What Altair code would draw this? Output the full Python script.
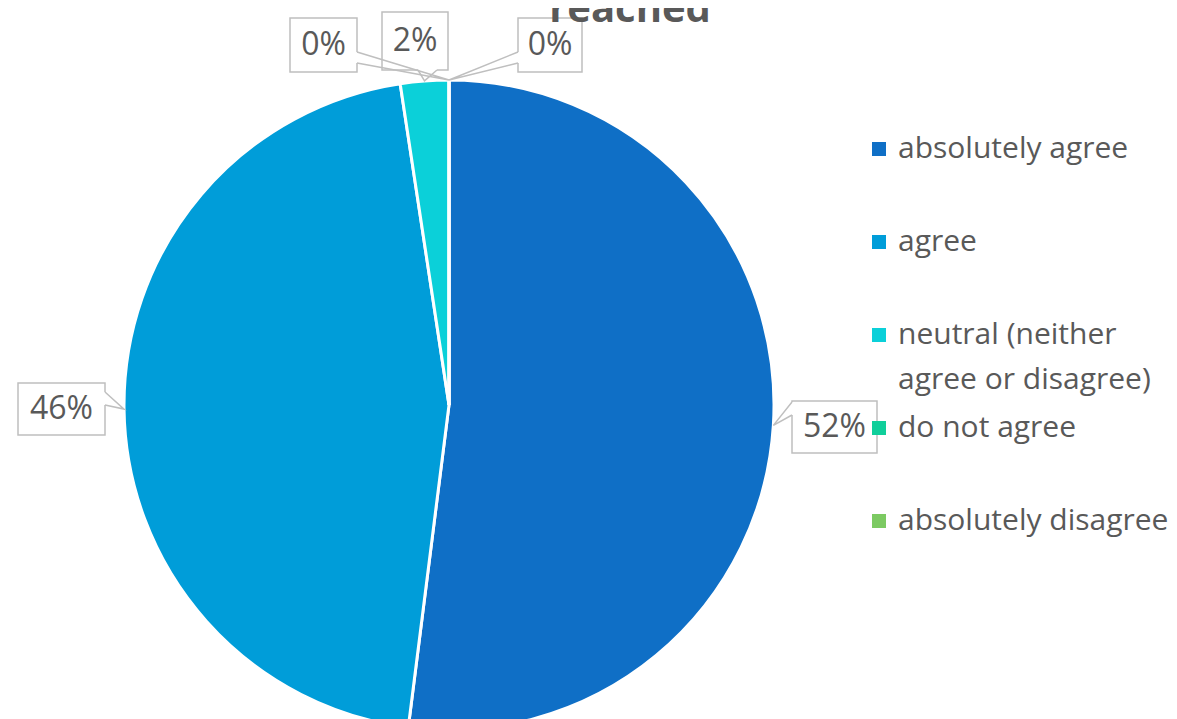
import math
import altair as alt
import pandas as pd

# ---------------- data ----------------
categories = ["absolutely agree", "agree", "neutral (neither agree or disagree)",
              "do not agree", "absolutely disagree"]
legend_labels = ["absolutely agree", "agree", "neutral (neither\nagree or disagree)",
                 "do not agree", "absolutely disagree"]
shares = [52.0, 45.6, 2.4, 0.0, 0.0]
colors = ["#0F6FC6", "#009DD9", "#0BD0D9", "#10CF9B", "#7CCA62"]
title_text = "reached"

# ---------------- layout (page pixels) ----------------
PAGE_W, PAGE_H, M = 1177, 719, 8
W, H = PAGE_W - 2 * M, PAGE_H - M
CX, CY, R = 449, 405, 325
TEXT = "#595959"
BORDER = "#BFBFBF"
FONT = "Open Sans"

# callout boxes: x0, x1, y0, y1, pointer base points
BOXES = [
    (792, 877, 401, 453, (792, 402), (792, 415)),   # absolutely agree
    (18, 105, 383, 435, (105, 392), (105, 405)),    # agree
    (382, 448, 12, 70, (418, 70), (437, 70)),       # neutral
    (290, 357, 18, 72, (357, 52), (357, 63)),       # do not agree
    (518, 582, 18, 72, (518, 52), (518, 63)),       # absolutely disagree
]
LEG_SQ_X, LEG_TX_X, LEG_Y0, LEG_DY = 879, 898, 149, 93

# ---------------- tables ----------------
pie_df = pd.DataFrame({"category": categories, "share": shares, "idx": range(len(categories))})

box_rows, ptr_rows, gap_rows = [], [], []
cum = 0.0
for i, (cat, s) in enumerate(zip(categories, shares)):
    mid = (cum + s / 2) / 100 * 2 * math.pi
    cum += s
    tx, ty = CX + R * math.sin(mid), CY - R * math.cos(mid)
    x0, x1, y0, y1, b1, b2 = BOXES[i]
    box_rows.append({"x0": x0, "x1": x1, "y0": y0, "y1": y1,
                     "cx": (x0 + x1) / 2, "cy": (y0 + y1) / 2,
                     "label": f"{round(s):.0f}%"})
    gap_rows.append({"x": b1[0], "y": b1[1], "x2": b2[0], "y2": b2[1]})
    for k, (px, py) in enumerate([b1, (tx, ty), b2]):
        ptr_rows.append({"lid": i, "seq": k, "x": px, "y": py})

box_df = pd.DataFrame(box_rows)
gap_df = pd.DataFrame(gap_rows)
ptr_df = pd.DataFrame(ptr_rows)
leg_df = pd.DataFrame({
    "category": categories,
    "text": legend_labels,
    "y": [LEG_Y0 + LEG_DY * i for i in range(len(categories))],
    "yt": [LEG_Y0 + LEG_DY * i + 9 for i in range(len(categories))],
    "sx": [LEG_SQ_X] * len(categories),
    "tx": [LEG_TX_X] * len(categories),
})
title_df = pd.DataFrame({"t": [title_text], "x": [630], "y": [22]})

xs = alt.Scale(domain=[M, M + W], range=[0, W])
ys = alt.Scale(domain=[M, M + H], range=[0, H])
cs = alt.Scale(domain=categories, range=colors)

def X(f):
    return alt.X(f, type="quantitative", scale=xs, axis=None)

def Y(f):
    return alt.Y(f, type="quantitative", scale=ys, axis=None)

pie = alt.Chart(pie_df).mark_arc(radius=R, stroke="white", strokeWidth=3).encode(
    theta=alt.Theta("share:Q", stack=True),
    color=alt.Color("category:N", scale=cs, legend=None),
    order=alt.Order("idx:Q"),
    x=alt.value(CX - M),
    y=alt.value(CY - M),
)

rects = alt.Chart(box_df).mark_rect(fill="white", stroke=BORDER, strokeWidth=1.5).encode(
    x=X("x0"), x2="x1", y=Y("y0"), y2="y1"
)
gaps = alt.Chart(gap_df).mark_rule(color="white", strokeWidth=3).encode(
    x=X("x"), y=Y("y"), x2="x2", y2="y2"
)
pointers = alt.Chart(ptr_df).mark_line(color=BORDER, strokeWidth=1.5).encode(
    x=X("x"), y=Y("y"), detail="lid:N", order="seq:Q"
)
labels = alt.Chart(box_df).mark_text(font=FONT, fontSize=32, color=TEXT,
                                     align="center", baseline="middle").encode(
    x=X("cx"), y=Y("cy"), text="label:N"
)
leg_sq = alt.Chart(leg_df).mark_square(size=196, filled=True, opacity=1).encode(
    x=X("sx"), y=Y("y"), color=alt.Color("category:N", scale=cs, legend=None)
)
leg_tx = alt.Chart(leg_df).mark_text(font=FONT, fontSize=30, color=TEXT, align="left",
                                     baseline="alphabetic", lineBreak="\n", lineHeight=45).encode(
    x=X("tx"), y=Y("yt"), text="text:N"
)
title = alt.Chart(title_df).mark_text(font=FONT, fontSize=40, fontWeight="bold", color=TEXT,
                                      align="center", baseline="alphabetic").encode(
    x=X("x"), y=Y("y"), text="t:N"
)

chart = alt.layer(pie, rects, gaps, pointers, labels, leg_sq, leg_tx, title).properties(
    width=W, height=H, autosize="none", padding=0
).configure_view(stroke=None)

chart.save("out.html", embed_options={"renderer": "svg", "actions": False})
